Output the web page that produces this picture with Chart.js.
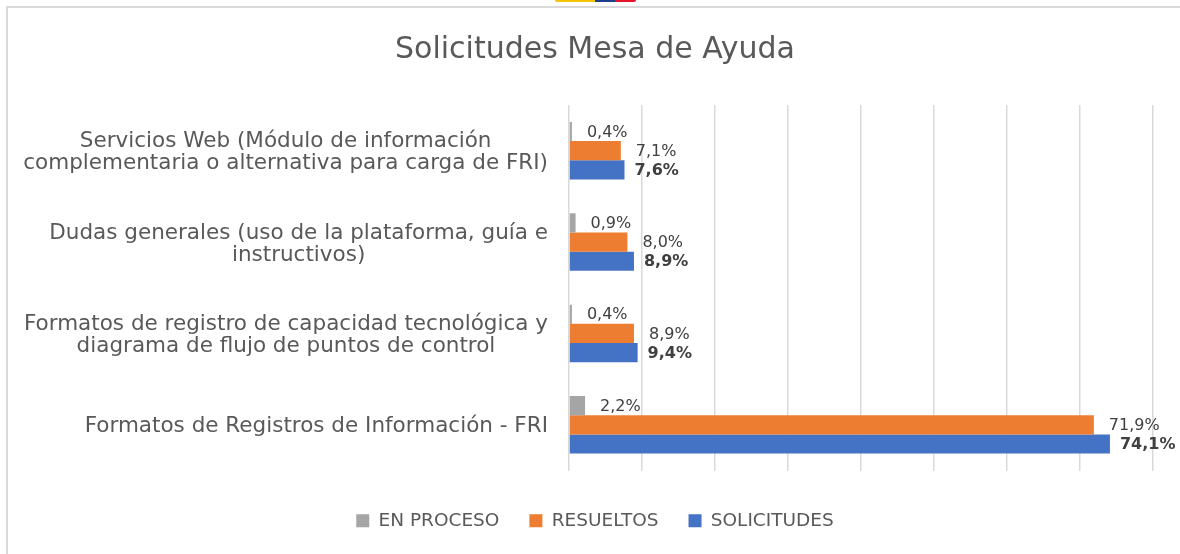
<!DOCTYPE html>
<html>
<head>
<meta charset="utf-8">
<script src="https://cdn.jsdelivr.net/npm/chart.js@4"></script>
<style>
  html, body { margin: 0; padding: 0; background: #fff; overflow: hidden; }
  #wrap { position: relative; width: 1180px; height: 554px; }
  #frame { position: absolute; left: 6px; top: 6px; width: 1300px; height: 700px; border: 2px solid #d9d9d9; box-sizing: border-box; }
  #logo { position: absolute; left: 555px; top: 0; height: 2px; width: 81px; border-radius: 0 0 3px 3px;
          background: linear-gradient(to right, #f5c400 0 49%, #1e3d8f 49% 74%, #e3142c 74% 100%); }
  canvas { position: absolute; left: 0; top: 0; }
</style>
</head>
<body>
<div id="wrap">
  <div id="frame"></div>
  <div id="logo"></div>
  <canvas id="myChart" width="1180" height="554"></canvas>
</div>
<script>
// Datos del gráfico
const categorias = [
    ['Servicios Web (Módulo de información', 'complementaria o alternativa para carga de FRI)'],
    ['Dudas generales (uso de la plataforma, guía e', 'instructivos)'],
    ['Formatos de registro de capacidad tecnológica y', 'diagrama de flujo de puntos de control'],
    ['Formatos de Registros de Información - FRI']
];
const enProceso = [0.4, 0.9, 0.4, 2.2];
const resueltos = [7.1, 8.0, 8.9, 71.9];
const solicitudes = [7.6, 8.9, 9.4, 74.1];
const ejeX = [0, 80, 10]; // min, max, paso

const FONT = '"DejaVu Sans", Verdana, sans-serif';

function formato(v) {
    return v.toFixed(1).replace('.', ',') + '%';
}

// Etiquetas de datos a la derecha de cada barra
const etiquetasDatos = {
    id: 'etiquetasDatos',
    afterDatasetsDraw(chart) {
        const ctx = chart.ctx;
        const separacion = [15, 15, 10];
        ctx.save();
        ctx.textAlign = 'left';
        ctx.textBaseline = 'middle';
        ctx.fillStyle = '#404040';
        chart.data.datasets.forEach((ds, i) => {
            const meta = chart.getDatasetMeta(i);
            ctx.font = (i === 2 ? 'bold ' : '') + '16px ' + FONT;
            meta.data.forEach((bar, j) => {
                ctx.fillText(formato(ds.data[j]), bar.x + separacion[i], bar.y + 1);
            });
        });
        ctx.restore();
    }
};

// Etiquetas de categoría (cada bloque centrado, alineado a la derecha del eje)
const etiquetasCategoria = {
    id: 'etiquetasCategoria',
    afterDraw(chart) {
        const ctx = chart.ctx;
        const y = chart.scales.y;
        const right = chart.chartArea.left - 21;
        ctx.save();
        ctx.font = '21.5px ' + FONT;
        ctx.fillStyle = '#595959';
        ctx.textAlign = 'center';
        ctx.textBaseline = 'middle';
        categorias.forEach((lineas, i) => {
            const anchoMax = Math.max(...lineas.map(l => ctx.measureText(l).width));
            const cx = right - anchoMax / 2;
            const cy = y.getPixelForValue(i) + 2;
            const alto = 22;
            lineas.forEach((l, k) => {
                ctx.fillText(l, cx, cy + (k - (lineas.length - 1) / 2) * alto);
            });
        });
        ctx.restore();
    }
};

const config = {
    type: 'bar',
    data: {
        labels: categorias.map(c => c.join(' ')),
        datasets: [
            { label: 'EN PROCESO', data: enProceso, backgroundColor: '#a5a5a5' },
            { label: 'RESUELTOS', data: resueltos, backgroundColor: '#ed7d31' },
            { label: 'SOLICITUDES', data: solicitudes, backgroundColor: '#4472c4' }
        ]
    },
    options: {
        indexAxis: 'y',
        responsive: false,
        animation: false,
        layout: { padding: { left: 37, right: 27, top: 32, bottom: 14 } },
        datasets: {
            bar: { categoryPercentage: 0.63, barPercentage: 1, borderWidth: 0 }
        },
        scales: {
            x: {
                min: ejeX[0], max: ejeX[1],
                ticks: { display: false, stepSize: ejeX[2] },
                grid: { color: '#d9d9d9', lineWidth: 1.5, drawTicks: false },
                border: { display: false },
                afterFit(scale) { scale.height = 11; }
            },
            y: {
                ticks: { display: false },
                grid: { display: false, drawTicks: false },
                border: { display: false },
                afterFit(scale) { scale.width = 532; }
            }
        },
        plugins: {
            title: {
                display: true,
                text: 'Solicitudes Mesa de Ayuda',
                color: '#595959',
                font: { family: FONT, size: 30, weight: 'normal' },
                padding: { top: 0, bottom: 37 }
            },
            legend: {
                position: 'bottom',
                labels: {
                    boxWidth: 13, boxHeight: 13,
                    color: '#595959',
                    font: { family: FONT, size: 18.5 },
                    padding: 30
                }
            },
            tooltip: { enabled: false }
        }
    },
    plugins: [etiquetasDatos, etiquetasCategoria]
};

new Chart(document.getElementById('myChart'), config);
</script>
</body>
</html>
